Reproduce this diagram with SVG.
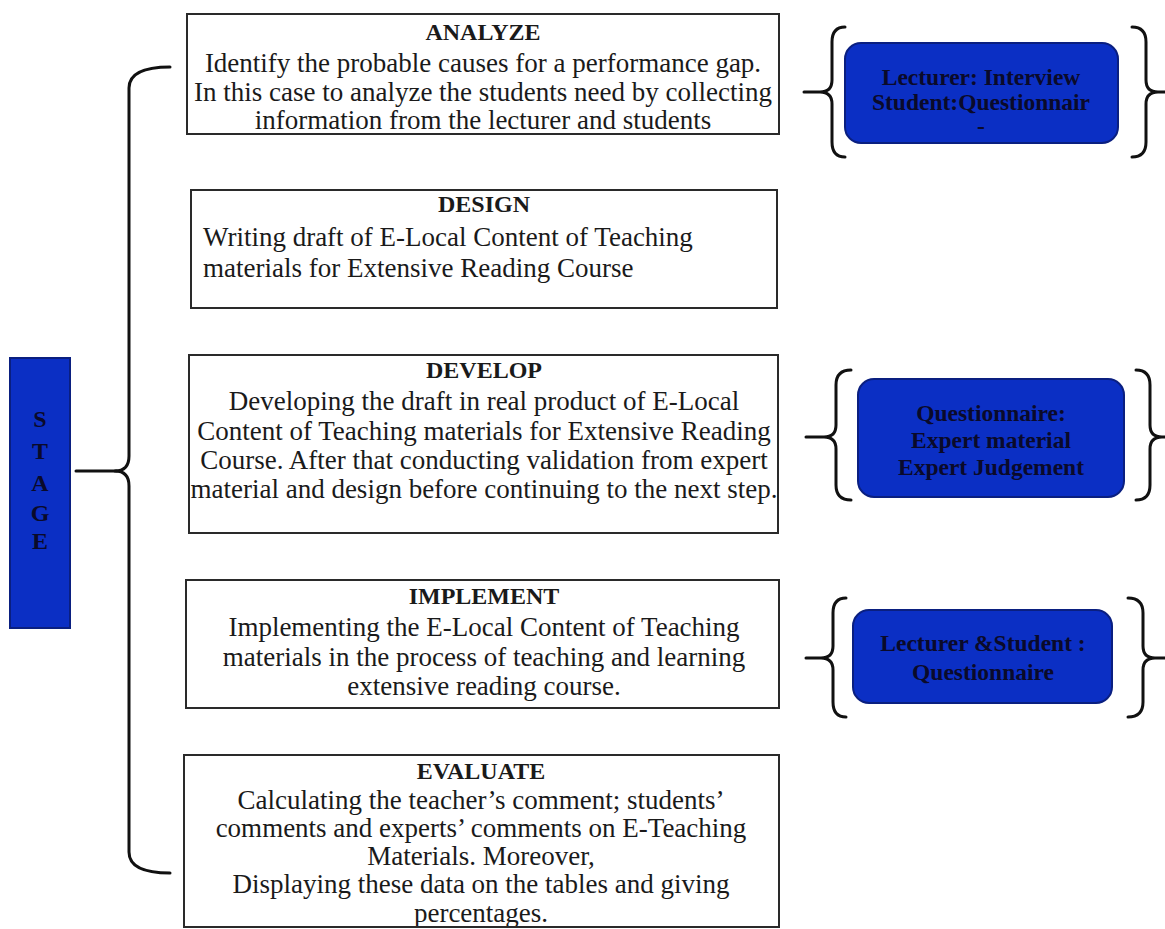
<svg xmlns="http://www.w3.org/2000/svg" width="1165" height="929" viewBox="0 0 1165 929">
<style>
.box{fill:#fff;stroke:#2a2a2a;stroke-width:2}
.frame{fill:none;stroke:#2a2a2a;stroke-width:2}
.blue{fill:#0b2fc4;stroke:#0a1f80;stroke-width:2}
.t{font-family:"Liberation Serif","Times New Roman",serif;font-size:27px;fill:#1a1a1a;text-anchor:middle}
.h{font-family:"Liberation Serif","Times New Roman",serif;font-size:24px;font-weight:bold;fill:#1a1a1a;text-anchor:middle}
.l{text-anchor:start}
.bt{font-family:"Liberation Serif","Times New Roman",serif;font-size:23.5px;font-weight:bold;fill:#0a0a2a;text-anchor:middle}
.st{font-family:"Liberation Serif","Times New Roman",serif;font-size:24px;font-weight:bold;fill:#0a0a2a;text-anchor:middle}
.br{fill:none;stroke:#111;stroke-width:3;stroke-linecap:round;stroke-linejoin:round}
</style>
<rect width="1165" height="929" fill="#fff"/>
<g id="stage">
<rect class="blue" x="10" y="358" width="60" height="270"/>
<text class="st" x="40" y="427">S</text>
<text class="st" x="40" y="459">T</text>
<text class="st" x="40" y="491">A</text>
<text class="st" x="40" y="521">G</text>
<text class="st" x="40" y="549">E</text>
</g>
<g id="connectors">
<path class="br" d="M170,67 Q129,67 129,88 L129,456 Q129,471 115,471 Q129,471 129,486 L129,852 Q129,873 170,873"/>
<path class="br" d="M76,471 L117,471"/>
<path class="br" d="M845,27 Q832,27 832,42 L832,80 Q832,92 820,92 Q832,92 832,104 L832,142 Q832,157 845,157 M804,92 L822,92"/>
<path class="br" d="M1132,27 Q1146,27 1146,42 L1146,80 Q1146,92 1158,92 Q1146,92 1146,104 L1146,142 Q1146,157 1132,157 M1156,92 L1165,92"/>
<path class="br" d="M851,370 Q836,370 836,385 L836,425 Q836,437 824,437 Q836,437 836,449 L836,485 Q836,500 851,500 M806,437 L826,437"/>
<path class="br" d="M1136,370 Q1150,370 1150,385 L1150,425 Q1150,437 1162,437 Q1150,437 1150,449 L1150,485 Q1150,500 1136,500 M1160,437 L1165,437"/>
<path class="br" d="M846,598 Q833,598 833,613 L833,646 Q833,658 821,658 Q833,658 833,670 L833,702 Q833,717 846,717 M806,658 L823,658"/>
<path class="br" d="M1128,598 Q1143,598 1143,613 L1143,646 Q1143,658 1155,658 Q1143,658 1143,670 L1143,702 Q1143,717 1128,717 M1153,658 L1165,658"/>
</g>
<g id="analyze">
<rect class="box" x="187" y="14" width="592" height="120"/>
<text class="h" x="483" y="40">ANALYZE</text>
<text class="t" x="483" y="72">Identify the probable causes for a performance gap.</text>
<text class="t" x="483" y="101">In this case to analyze the students need by collecting</text>
<text class="t" x="483" y="129">information from the lecturer and students</text>
</g>
<g id="design">
<rect class="box" x="191" y="190" width="586" height="118"/>
<text class="h" x="484" y="212">DESIGN</text>
<text class="t l" x="203" y="246">Writing draft of E-Local Content of Teaching</text>
<text class="t l" x="203" y="277">materials for Extensive Reading Course</text>
</g>
<g id="develop">
<rect class="box" x="189" y="355" width="589" height="178"/>
<text class="h" x="484" y="378">DEVELOP</text>
<text class="t" x="484" y="410">Developing the draft in real product of E-Local</text>
<text class="t" x="484" y="440">Content of Teaching materials for Extensive Reading</text>
<text class="t" x="484" y="469">Course. After that conducting validation from expert</text>
<text class="t" x="484" y="498">material and design before continuing to the next step.</text>
</g>
<g id="implement">
<rect class="box" x="186" y="580" width="593" height="128"/>
<text class="h" x="484" y="604">IMPLEMENT</text>
<text class="t" x="484" y="636">Implementing the E-Local Content of Teaching</text>
<text class="t" x="484" y="666">materials in the process of teaching and learning</text>
<text class="t" x="484" y="695">extensive reading course.</text>
</g>
<g id="evaluate">
<rect class="box" x="184" y="755" width="595" height="172"/>
<text class="h" x="481" y="779">EVALUATE</text>
<text class="t" x="481" y="809">Calculating the teacher’s comment; students’</text>
<text class="t" x="481" y="837">comments and experts’ comments on E-Teaching</text>
<text class="t" x="481" y="865">Materials. Moreover,</text>
<text class="t" x="481" y="893">Displaying these data on the tables and giving</text>
<text class="t" x="481" y="922">percentages.</text>
<rect class="frame" x="184" y="755" width="595" height="172"/>
</g>
<g id="tool1">
<rect class="blue" x="845" y="43" width="273" height="100" rx="16"/>
<text class="bt" x="981" y="85">Lecturer: Interview</text>
<text class="bt" x="981" y="110">Student:Questionnair</text>
<text class="bt" x="981" y="134">-</text>
</g>
<g id="tool2">
<rect class="blue" x="858" y="379" width="266" height="118" rx="16"/>
<text class="bt" x="991" y="421">Questionnaire:</text>
<text class="bt" x="991" y="448">Expert material</text>
<text class="bt" x="991" y="475">Expert Judgement</text>
</g>
<g id="tool3">
<rect class="blue" x="853" y="610" width="259" height="93" rx="16"/>
<text class="bt" x="983" y="651">Lecturer &amp;Student :</text>
<text class="bt" x="983" y="680">Questionnaire</text>
</g>
</svg>
